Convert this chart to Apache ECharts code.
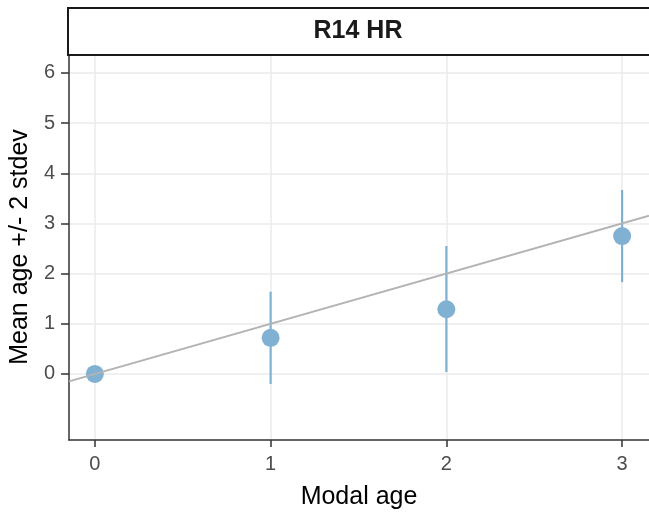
<!DOCTYPE html>
<html>
<head>
<meta charset="utf-8">
<script src="https://cdn.jsdelivr.net/npm/echarts@6/dist/echarts.min.js"></script>
<style>
html,body{margin:0;padding:0;background:#fff;}
#chart{width:649px;height:519px;}
</style>
</head>
<body>
<div id="chart"></div>
<script>
// ---- data ----
const panelTitle = 'R14 HR';
const modalAge = [0, 1, 2, 3];
const meanAge = [0, 0.72, 1.29, 2.75];
const lowerBar = [0, -0.2, 0.04, 1.83];
const upperBar = [0, 1.64, 2.55, 3.67];
const xTickValues = [0, 1, 2, 3];
const yTickValues = [0, 1, 2, 3, 4, 5, 6];
const refSlope = 1, refIntercept = 0;

// ---- layout ----
const xMin = -0.147, xMax = 3.153;
const yMin = -1.316, yMax = 6.378;
const pointColor = '#80b1d3';

const pointData = modalAge.map((x, i) => [x, meanAge[i]]);
const barData = modalAge.map((x, i) => [x, lowerBar[i], upperBar[i]]);
const refData = [[xMin, refIntercept + refSlope * xMin], [xMax, refIntercept + refSlope * xMax]];

const chart = echarts.init(document.getElementById('chart'), null, {renderer: 'canvas'});
const labelFont = {color: '#4d4d4d', fontSize: 20, fontFamily: 'Liberation Sans'};
chart.setOption({
  animation: false,
  backgroundColor: '#ffffff',
  grid: {left: 67, top: 54, width: 590, height: 386, containLabel: false},
  xAxis: {
    type: 'value', min: xMin, max: xMax,
    name: 'Modal age', nameLocation: 'middle', nameGap: 45,
    nameTextStyle: {color: '#000', fontSize: 25, fontFamily: 'Liberation Sans'},
    axisLine: {show: true, onZero: false, lineStyle: {color: '#333333', width: 1.5}},
    axisTick: {show: true, length: 7, customValues: xTickValues, lineStyle: {color: '#333333', width: 1.5}},
    axisLabel: Object.assign({margin: 14, customValues: xTickValues}, labelFont),
    splitLine: {show: true, lineStyle: {color: '#ebebeb', width: 1.5}}
  },
  yAxis: {
    type: 'value', min: yMin, max: yMax,
    name: 'Mean age +/- 2 stdev', nameLocation: 'middle', nameGap: 35, nameRotate: 90,
    nameTextStyle: {color: '#000', fontSize: 25, fontFamily: 'Liberation Sans'},
    axisLine: {show: true, onZero: false, lineStyle: {color: '#333333', width: 1.5}},
    axisTick: {show: true, length: 8, customValues: yTickValues, lineStyle: {color: '#333333', width: 1.5}},
    axisLabel: Object.assign({margin: 14, customValues: yTickValues}, labelFont),
    splitLine: {show: true, lineStyle: {color: '#ebebeb', width: 1.5}}
  },
  graphic: [
    {type: 'rect', left: 67, top: 7, z: 100,
     shape: {width: 600, height: 47},
     style: {fill: '#ffffff', stroke: '#1a1a1a', lineWidth: 2}},
    {type: 'text', x: 358, y: 31, z: 101,
     style: {text: panelTitle, fill: '#1a1a1a', font: 'bold 25px "Liberation Sans"', align: 'center', verticalAlign: 'middle'}}
  ],
  series: [
    {
      type: 'custom', z: 3,
      data: barData,
      renderItem: function (params, api) {
        const x = api.value(0);
        const lo = api.coord([x, api.value(1)]);
        const hi = api.coord([x, api.value(2)]);
        return {type: 'line', shape: {x1: lo[0], y1: lo[1], x2: hi[0], y2: hi[1]},
                style: {stroke: pointColor, lineWidth: 2.2}};
      }
    },
    {
      type: 'scatter', z: 4, data: pointData, symbol: 'circle', symbolSize: 18,
      itemStyle: {color: pointColor, opacity: 1}
    },
    {
      type: 'line', z: 5, data: refData, showSymbol: false, symbol: 'none',
      lineStyle: {color: '#b3b3b3', width: 2}
    }
  ]
});
</script>
</body>
</html>
